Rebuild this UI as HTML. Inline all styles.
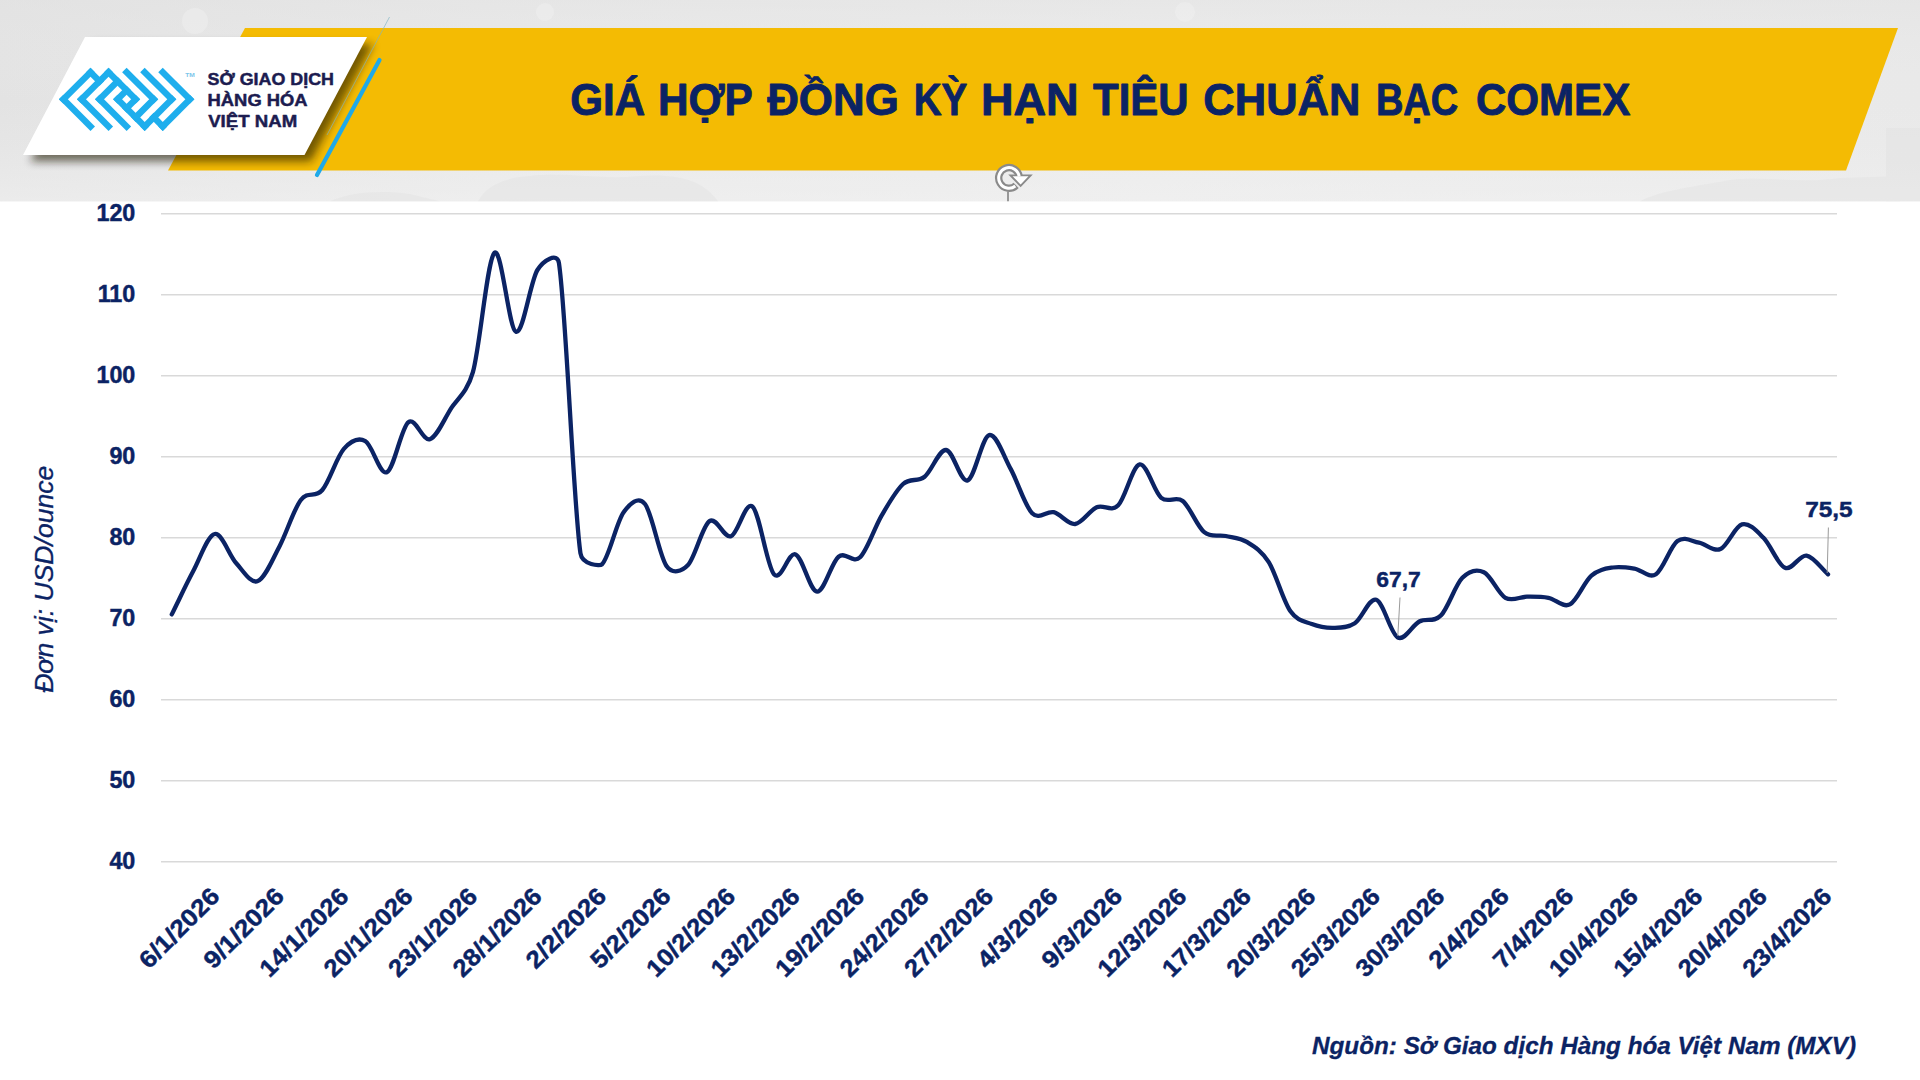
<!DOCTYPE html>
<html lang="vi"><head><meta charset="utf-8"><title>Giá hợp đồng kỳ hạn tiêu chuẩn bạc COMEX</title>
<style>html,body{margin:0;padding:0;background:#fff;}body{width:1920px;height:1080px;overflow:hidden;position:relative;font-family:"Liberation Sans",sans-serif;}svg{position:absolute;left:0;top:0;display:block}text{font-family:"Liberation Sans",sans-serif;}</style>
</head><body>
<svg width="1920" height="1080" viewBox="0 0 1920 1080">
<defs>
<linearGradient id="hbg" x1="0" y1="0" x2="1" y2="0"><stop offset="0" stop-color="#e3e3e3"/><stop offset="0.25" stop-color="#e9e9e9"/><stop offset="0.6" stop-color="#ececec"/><stop offset="1" stop-color="#e9e9e9"/></linearGradient>
<linearGradient id="hbgv" x1="0" y1="0" x2="0" y2="1"><stop offset="0" stop-color="#e2e2e2" stop-opacity="0.5"/><stop offset="0.5" stop-color="#ebebeb" stop-opacity="0"/><stop offset="1" stop-color="#f2f2f2" stop-opacity="0.55"/></linearGradient>
<filter id="sh" x="-10%" y="-20%" width="125%" height="150%"><feGaussianBlur stdDeviation="4.2"/></filter>
<filter id="sh2" x="-10%" y="-20%" width="125%" height="150%"><feGaussianBlur stdDeviation="3"/></filter>
</defs>
<rect x="0" y="0" width="1920" height="201.3" fill="url(#hbg)"/>
<rect x="0" y="0" width="1920" height="201.3" fill="url(#hbgv)"/>
<g fill="#dcdcdc" opacity="0.28">
<path d="M478,201.3 C485,188 500,178 530,176 C570,172 600,180 640,176 C680,173 705,182 718,201.3 Z"/>
<path d="M1640,201.3 C1660,190 1700,186 1730,180 C1770,176 1800,184 1840,178 L1900,176 L1900,201.3 Z"/>
<rect x="1886" y="128" width="34" height="73.3"/>
<path d="M330,201.3 C350,192 380,190 410,194 L440,201.3 Z"/>
</g>
<g fill="#f3f3f3" opacity="0.4"><circle cx="195" cy="21" r="13"/><circle cx="1185" cy="12" r="10"/><circle cx="545" cy="12" r="9"/></g>
<polygon points="245,28 1898,28 1846,170.5 168,170.5" fill="#f4bb03"/>
<g opacity="0.6"><polygon points="92,44 373,44 311,161.5 30,161.5" fill="#1a1400" filter="url(#sh)"/></g>
<polygon points="85,37 367,37 304.5,155 23,155" fill="#ffffff"/>
<line x1="379.5" y1="60" x2="317" y2="175" stroke="#1fa9e8" stroke-width="4.2" stroke-linecap="round"/>
<line x1="389.5" y1="17" x2="327" y2="135" stroke="#7fb4c4" stroke-width="1" opacity="0.65"/>
<g transform="matrix(4.5150 4.5150 4.5150 -4.5150 58.90 99.30)" fill="#1eaeed">
<rect x="0" y="0" width="1" height="7"/>
<rect x="14" y="8" width="1" height="7"/>
<rect x="0" y="0" width="7" height="1"/>
<rect x="8" y="14" width="7" height="1"/>
<rect x="0" y="6" width="3" height="1"/>
<rect x="12" y="8" width="3" height="1"/>
<rect x="2" y="2" width="1" height="7"/>
<rect x="12" y="6" width="1" height="7"/>
<rect x="2" y="2" width="7" height="1"/>
<rect x="6" y="12" width="7" height="1"/>
<rect x="2" y="8" width="7" height="1"/>
<rect x="6" y="6" width="7" height="1"/>
<rect x="4" y="4" width="1" height="5"/>
<rect x="10" y="6" width="1" height="5"/>
<rect x="4" y="4" width="7" height="1"/>
<rect x="4" y="10" width="7" height="1"/>
<rect x="6" y="6" width="1" height="3"/>
<rect x="8" y="6" width="1" height="3"/>
</g>
<text x="185.3" y="77.4" font-size="5.2" font-weight="700" fill="#7cc6ea" textLength="9.6" lengthAdjust="spacingAndGlyphs">TM</text>
<g font-weight="700" font-size="17.3" fill="#1c1c50" stroke="#1c1c50" stroke-width="0.5" stroke-linejoin="round">
<text x="207.6" y="85.4" textLength="126.4" lengthAdjust="spacingAndGlyphs">SỞ GIAO DỊCH</text>
<text x="207.6" y="106.1" textLength="100" lengthAdjust="spacingAndGlyphs">HÀNG HÓA</text>
<text x="208.2" y="126.7" textLength="89" lengthAdjust="spacingAndGlyphs">VIỆT NAM</text>
</g>
<g font-weight="700" font-size="44.8" fill="#0b2364" stroke="#0b2364" stroke-width="0.9" stroke-linejoin="round">
<text x="570.31" y="114.5" textLength="74.87" lengthAdjust="spacingAndGlyphs">GIÁ</text>
<text x="657.91" y="114.5" textLength="94.97" lengthAdjust="spacingAndGlyphs">HỢP</text>
<text x="767.15" y="114.5" textLength="131.71" lengthAdjust="spacingAndGlyphs">ĐỒNG</text>
<text x="913.66" y="114.5" textLength="53.68" lengthAdjust="spacingAndGlyphs">KỲ</text>
<text x="980.93" y="114.5" textLength="97.69" lengthAdjust="spacingAndGlyphs">HẠN</text>
<text x="1092.95" y="114.5" textLength="95.81" lengthAdjust="spacingAndGlyphs">TIÊU</text>
<text x="1203.28" y="114.5" textLength="157.26" lengthAdjust="spacingAndGlyphs">CHUẨN</text>
<text x="1375.90" y="114.5" textLength="82.45" lengthAdjust="spacingAndGlyphs">BẠC</text>
<text x="1475.91" y="114.5" textLength="154.33" lengthAdjust="spacingAndGlyphs">COMEX</text>
</g>
<g fill="none" stroke-linecap="butt">
<line x1="1008" y1="191.5" x2="1008" y2="201.3" stroke="#8e8e8e" stroke-width="1.8"/>
<path d="M1016.15,185.31 A10.30,10.30 0 1 1 1019.20,176.47" stroke="#8a8a8a" stroke-width="7.4"/>
<polygon points="1010.5,175.4 1030.6,175.4 1020.6,185.8" fill="#ffffff" stroke="#8a8a8a" stroke-width="1.9" stroke-linejoin="miter"/>
<path d="M1015.34,186.02 A10.30,10.30 0 1 1 1019.20,176.47" stroke="#ffffff" stroke-width="3.0"/>
</g>
<g stroke="#d9d9d9" stroke-width="1.6">
<line x1="161" y1="213.7" x2="1837" y2="213.7"/>
<line x1="161" y1="294.7" x2="1837" y2="294.7"/>
<line x1="161" y1="375.7" x2="1837" y2="375.7"/>
<line x1="161" y1="456.7" x2="1837" y2="456.7"/>
<line x1="161" y1="537.7" x2="1837" y2="537.7"/>
<line x1="161" y1="618.7" x2="1837" y2="618.7"/>
<line x1="161" y1="699.7" x2="1837" y2="699.7"/>
<line x1="161" y1="780.7" x2="1837" y2="780.7"/>
<line x1="161" y1="861.7" x2="1837" y2="861.7"/>
</g>
<g font-weight="700" font-size="23.3" fill="#0b2364" stroke="#0b2364" stroke-width="0.45" text-anchor="end">
<text x="135.3" y="221.3">120</text>
<text x="135.3" y="302.3">110</text>
<text x="135.3" y="383.3">100</text>
<text x="135.3" y="464.3">90</text>
<text x="135.3" y="545.3">80</text>
<text x="135.3" y="626.3">70</text>
<text x="135.3" y="707.3">60</text>
<text x="135.3" y="788.3">50</text>
<text x="135.3" y="869.3">40</text>
</g>
<text transform="translate(53.2,692.8) rotate(-90)" font-style="italic" font-size="25" fill="#0b2364" stroke="#0b2364" stroke-width="0.3" textLength="227" lengthAdjust="spacingAndGlyphs">Đơn vị: USD/ounce</text>
<g font-weight="700" font-size="24.3" fill="#0b2364" stroke="#0b2364" stroke-width="0.45" text-anchor="end">
<text transform="translate(221.0,897.8) rotate(-45)" textLength="102.0" lengthAdjust="spacingAndGlyphs">6/1/2026</text>
<text transform="translate(285.5,897.8) rotate(-45)" textLength="102.0" lengthAdjust="spacingAndGlyphs">9/1/2026</text>
<text transform="translate(350.0,897.8) rotate(-45)" textLength="114.0" lengthAdjust="spacingAndGlyphs">14/1/2026</text>
<text transform="translate(414.4,897.8) rotate(-45)" textLength="114.0" lengthAdjust="spacingAndGlyphs">20/1/2026</text>
<text transform="translate(478.9,897.8) rotate(-45)" textLength="114.0" lengthAdjust="spacingAndGlyphs">23/1/2026</text>
<text transform="translate(543.4,897.8) rotate(-45)" textLength="114.0" lengthAdjust="spacingAndGlyphs">28/1/2026</text>
<text transform="translate(607.9,897.8) rotate(-45)" textLength="102.0" lengthAdjust="spacingAndGlyphs">2/2/2026</text>
<text transform="translate(672.4,897.8) rotate(-45)" textLength="102.0" lengthAdjust="spacingAndGlyphs">5/2/2026</text>
<text transform="translate(736.8,897.8) rotate(-45)" textLength="114.0" lengthAdjust="spacingAndGlyphs">10/2/2026</text>
<text transform="translate(801.3,897.8) rotate(-45)" textLength="114.0" lengthAdjust="spacingAndGlyphs">13/2/2026</text>
<text transform="translate(865.8,897.8) rotate(-45)" textLength="114.0" lengthAdjust="spacingAndGlyphs">19/2/2026</text>
<text transform="translate(930.3,897.8) rotate(-45)" textLength="114.0" lengthAdjust="spacingAndGlyphs">24/2/2026</text>
<text transform="translate(994.8,897.8) rotate(-45)" textLength="114.0" lengthAdjust="spacingAndGlyphs">27/2/2026</text>
<text transform="translate(1059.2,897.8) rotate(-45)" textLength="102.0" lengthAdjust="spacingAndGlyphs">4/3/2026</text>
<text transform="translate(1123.7,897.8) rotate(-45)" textLength="102.0" lengthAdjust="spacingAndGlyphs">9/3/2026</text>
<text transform="translate(1188.2,897.8) rotate(-45)" textLength="114.0" lengthAdjust="spacingAndGlyphs">12/3/2026</text>
<text transform="translate(1252.7,897.8) rotate(-45)" textLength="114.0" lengthAdjust="spacingAndGlyphs">17/3/2026</text>
<text transform="translate(1317.2,897.8) rotate(-45)" textLength="114.0" lengthAdjust="spacingAndGlyphs">20/3/2026</text>
<text transform="translate(1381.6,897.8) rotate(-45)" textLength="114.0" lengthAdjust="spacingAndGlyphs">25/3/2026</text>
<text transform="translate(1446.1,897.8) rotate(-45)" textLength="114.0" lengthAdjust="spacingAndGlyphs">30/3/2026</text>
<text transform="translate(1510.6,897.8) rotate(-45)" textLength="102.0" lengthAdjust="spacingAndGlyphs">2/4/2026</text>
<text transform="translate(1575.1,897.8) rotate(-45)" textLength="102.0" lengthAdjust="spacingAndGlyphs">7/4/2026</text>
<text transform="translate(1639.6,897.8) rotate(-45)" textLength="114.0" lengthAdjust="spacingAndGlyphs">10/4/2026</text>
<text transform="translate(1704.0,897.8) rotate(-45)" textLength="114.0" lengthAdjust="spacingAndGlyphs">15/4/2026</text>
<text transform="translate(1768.5,897.8) rotate(-45)" textLength="114.0" lengthAdjust="spacingAndGlyphs">20/4/2026</text>
<text transform="translate(1833.0,897.8) rotate(-45)" textLength="114.0" lengthAdjust="spacingAndGlyphs">23/4/2026</text>
</g>
<path d="M171.76,614.40C178.93,599.97 186.10,584.50 193.27,571.10C200.44,557.70 207.61,535.30 214.78,534.00C221.95,532.70 229.12,555.45 236.29,563.30C243.46,571.15 250.63,583.87 257.80,581.10C264.97,578.33 272.14,560.22 279.31,546.70C286.48,533.18 293.65,509.45 300.82,500.00C307.99,490.55 315.16,498.52 322.33,490.00C329.50,481.48 336.67,457.05 343.84,448.90C351.01,440.75 358.18,437.22 365.35,441.10C372.52,444.98 379.69,475.35 386.86,472.20C394.03,469.05 401.20,427.70 408.37,422.20C415.54,416.70 422.71,441.60 429.88,439.20C437.05,436.80 444.22,418.97 451.39,407.80C456.96,399.13 467.33,392.24 472.90,372.20C480.07,346.38 487.24,259.63 494.41,252.90C501.58,246.17 508.75,328.95 515.92,331.80C523.09,334.65 530.26,281.47 537.43,270.00C543.43,260.41 557.24,251.82 558.94,263.00C566.11,310.22 573.28,503.07 580.45,553.30C582.16,565.28 600.25,566.02 601.96,564.40C609.13,557.60 616.30,522.57 623.47,512.50C630.18,503.08 638.27,495.66 644.98,504.00C652.15,512.92 659.32,555.83 666.49,566.00C672.70,574.80 681.79,571.48 688.00,565.00C695.17,557.52 702.34,525.90 709.51,521.10C716.68,516.30 723.85,538.60 731.02,536.20C738.19,533.80 745.36,500.33 752.53,506.70C759.70,513.07 766.87,566.45 774.04,574.40C781.21,582.35 788.38,551.53 795.55,554.40C802.72,557.27 809.89,591.22 817.06,591.60C824.23,591.98 831.40,562.42 838.57,556.70C845.74,550.98 852.91,564.15 860.08,557.30C867.25,550.45 874.42,527.82 881.59,515.60C888.76,503.38 895.93,490.48 903.10,484.00C910.27,477.52 917.44,482.37 924.61,476.70C931.78,471.03 938.95,449.38 946.12,450.00C953.29,450.62 960.46,482.88 967.63,480.40C974.80,477.92 981.97,437.02 989.14,435.10C996.31,433.18 1003.48,455.87 1010.65,468.90C1017.82,481.93 1024.99,506.08 1032.16,513.30C1039.33,520.52 1046.50,510.42 1053.67,512.20C1060.84,513.98 1068.01,524.82 1075.18,524.00C1082.35,523.18 1089.52,510.42 1096.69,507.30C1103.86,504.18 1111.03,512.45 1118.20,505.30C1125.37,498.15 1132.54,465.65 1139.71,464.40C1146.88,463.15 1154.05,491.70 1161.22,497.80C1168.39,503.90 1175.56,495.27 1182.73,501.00C1189.90,506.73 1197.07,526.37 1204.24,532.20C1211.41,538.03 1218.58,534.33 1225.75,536.00C1232.92,537.67 1240.09,537.83 1247.26,542.20C1254.43,546.57 1261.60,550.72 1268.77,562.20C1275.94,573.68 1283.11,600.80 1290.28,611.10C1297.44,621.39 1304.63,621.22 1311.79,624.00C1318.96,626.78 1326.13,627.92 1333.30,627.80C1340.47,627.68 1347.64,627.97 1354.81,623.30C1361.98,618.63 1369.15,597.43 1376.32,599.80C1383.49,602.17 1390.66,633.88 1397.83,637.50C1405.00,641.12 1412.17,625.15 1419.34,621.50C1426.51,617.85 1433.68,622.88 1440.85,615.60C1448.02,608.32 1455.19,585.03 1462.36,577.80C1469.53,570.57 1476.70,568.87 1483.87,572.20C1491.04,575.53 1498.21,593.72 1505.38,597.80C1512.55,601.88 1519.72,596.70 1526.89,596.70C1534.06,596.70 1541.23,596.52 1548.40,597.80C1555.57,599.08 1562.74,608.10 1569.91,604.40C1577.08,600.70 1584.25,581.75 1591.42,575.60C1598.59,569.45 1605.76,568.67 1612.93,567.50C1620.10,566.33 1627.27,567.48 1634.44,568.60C1641.61,569.72 1648.78,578.78 1655.95,574.20C1663.12,569.62 1670.29,546.35 1677.46,541.10C1684.63,535.85 1691.80,541.38 1698.97,542.70C1706.14,544.02 1713.31,552.05 1720.48,549.00C1727.65,545.95 1734.82,526.27 1741.99,524.40C1749.16,522.53 1756.33,530.57 1763.50,537.80C1770.67,545.03 1777.84,564.83 1785.01,567.80C1792.18,570.77 1799.35,554.52 1806.52,555.60C1813.69,556.68 1820.86,568.07 1828.03,574.30" fill="none" stroke="#0b2364" stroke-width="4.3" stroke-linejoin="round" stroke-linecap="round"/>
<g stroke="#9a9a9a" stroke-width="1"><line x1="1400" y1="597.5" x2="1397.8" y2="636"/><line x1="1828.4" y1="527.5" x2="1827.2" y2="573"/></g>
<g font-weight="700" font-size="22.3" fill="#0b2364" stroke="#0b2364" stroke-width="0.45">
<text x="1376.3" y="586.7" textLength="44.5" lengthAdjust="spacingAndGlyphs">67,7</text>
<text x="1805.2" y="516.7" textLength="47.5" lengthAdjust="spacingAndGlyphs">75,5</text>
</g>
<text x="1312" y="1053.5" font-weight="700" font-style="italic" font-size="24.5" stroke="#0b2364" stroke-width="0.3" fill="#0b2364" textLength="544" lengthAdjust="spacingAndGlyphs">Nguồn: Sở Giao dịch Hàng hóa Việt Nam (MXV)</text>
</svg>
</body></html>
